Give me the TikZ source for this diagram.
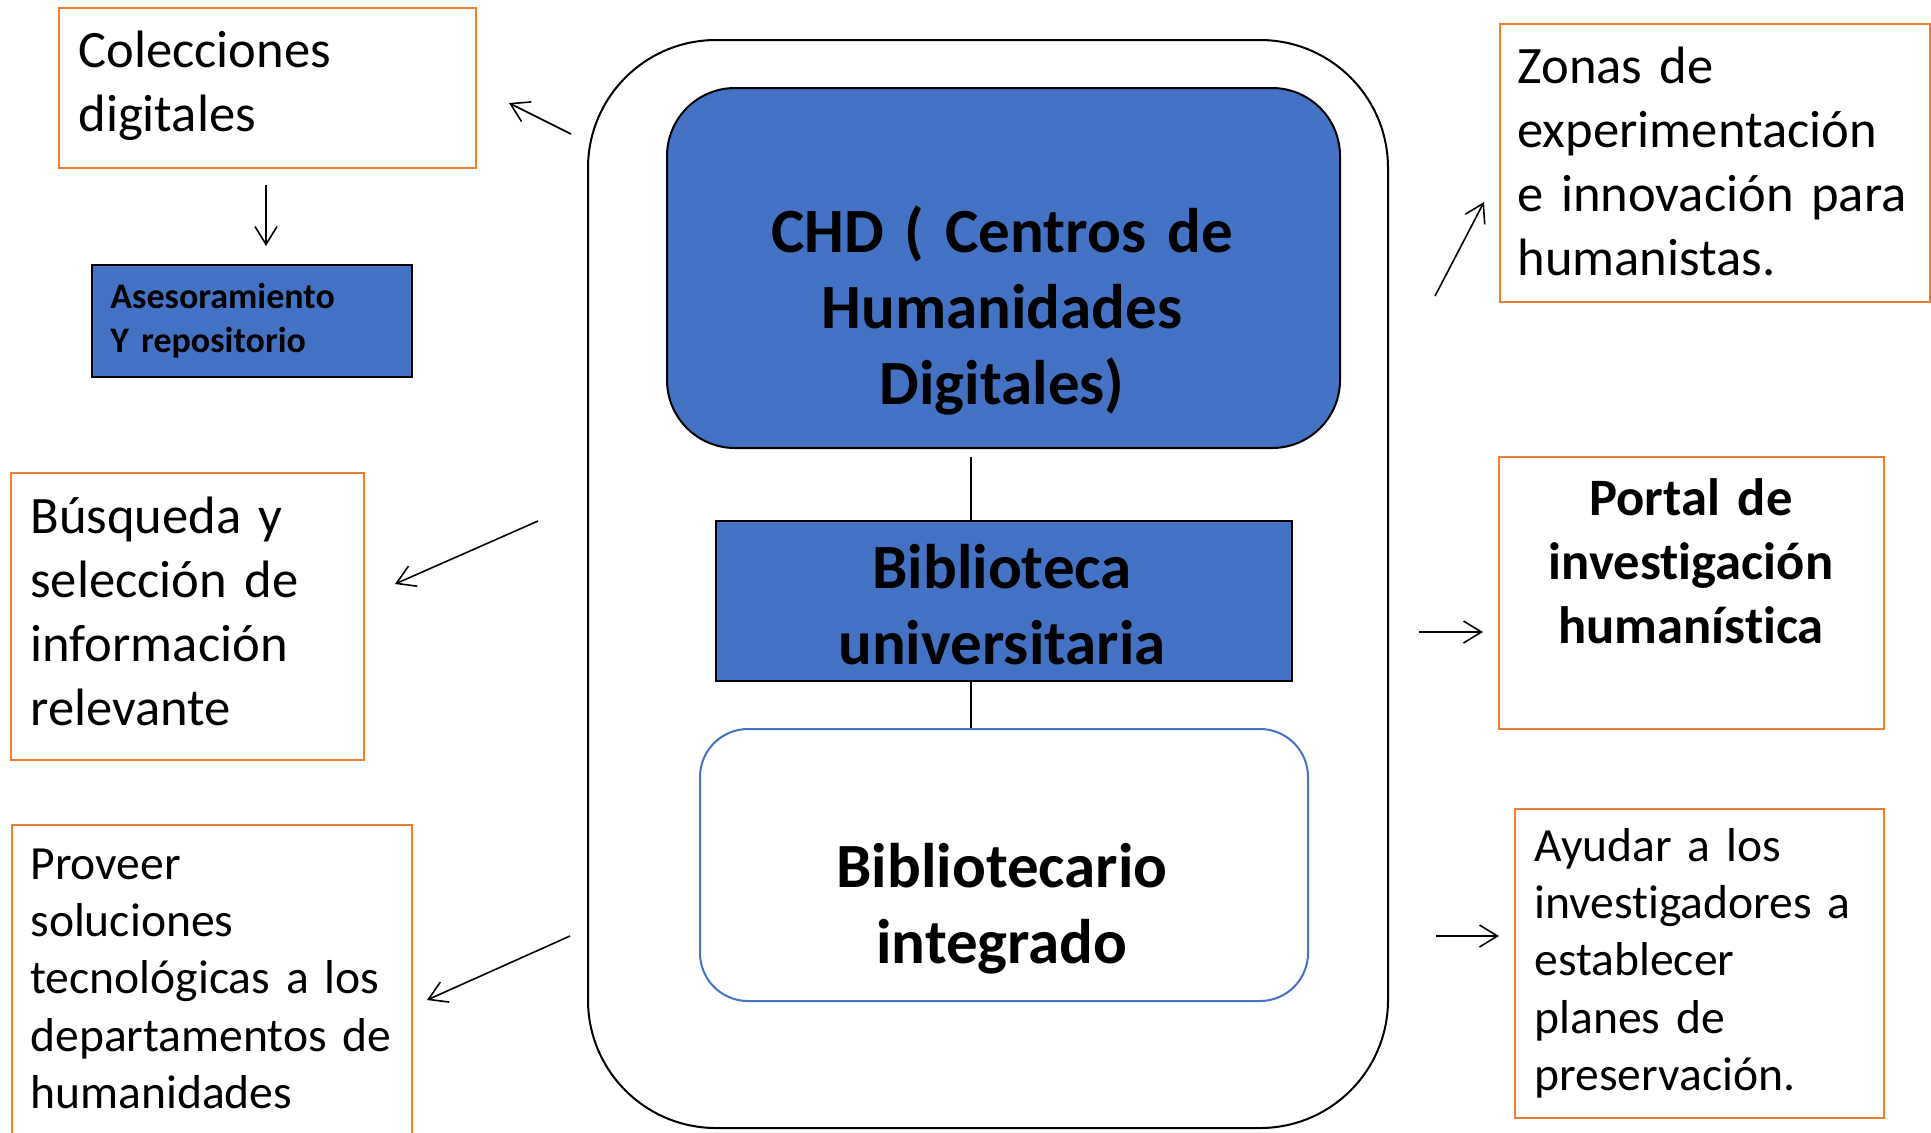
\documentclass[tikz,border=0pt]{standalone}
\usepackage{fontspec}
\setmainfont{Carlito}[Ligatures=NoCommon, WordSpace=0.85]
\usetikzlibrary{arrows.meta}
\definecolor{orangeB}{HTML}{ED7D31}
\definecolor{blueF}{HTML}{4472C4}
\newcommand{\fBig}{\fontsize{26.3pt}{32pt}\selectfont}
\newcommand{\fMid}{\fontsize{23.8pt}{28.7pt}\selectfont}
\newcommand{\fHead}{\fontsize{31.5pt}{38.2pt}\selectfont\bfseries}
\newcommand{\fSmall}{\fontsize{18pt}{22pt}\selectfont\bfseries}
\tikzset{
  obox/.style={draw=orangeB, line width=1.2pt, fill=white, inner sep=0pt, anchor=north west},
  bfill/.style={draw=black, line width=1pt, fill=blueF, inner sep=0pt, anchor=north west},
  ltxt/.style={anchor=base west, inner sep=0pt, align=left, text width=250pt},
  ctxt/.style={anchor=base, inner sep=0pt, align=center, text width=320pt},
  arr/.style={-{Straight Barb[length=9pt,width=11pt]}, line width=0.8pt},
  conn/.style={line width=0.9pt},
}
\begin{document}
\begin{tikzpicture}[x=0.5pt,y=-0.5pt]
\useasboundingbox (0,0) rectangle (1931,1132);
\fill[white] (0,0) rectangle (1931,1132);

% central container
\node[draw=black, line width=1pt, rounded corners=64pt, inner sep=0pt, anchor=north west,
      minimum width=400pt, minimum height=544pt] (outer) at (587,39) {};
\node[bfill, rounded corners=34pt, minimum width=336.5pt, minimum height=180pt] (chdB) at (666,87) {};
\node[bfill, minimum width=288pt, minimum height=80pt] (bibB) at (715,520) {};
\node[draw=blueF, line width=1pt, fill=white, rounded corners=24pt, inner sep=0pt, anchor=north west,
      minimum width=304pt, minimum height=136pt] (bibtB) at (699,728) {};

\node[ctxt, font=\fHead] (chd) at (1002,252) {CHD ( Centros de\\Humanidades\\Digitales)};
\node[ctxt, font=\fHead] (bib) at (1002,588) {Biblioteca\\universitaria};
\node[ctxt, font=\fHead] (bibt) at (1002,887) {Bibliotecario\\integrado};

\coordinate (c1) at (971,457);
\draw[conn] (c1) -- (c1 |- bibB.north);
\draw[conn] (bibB.south -| c1) -- (bibtB.north -| c1);

% left side
\node[obox, minimum width=208.5pt, minimum height=80pt] (colB) at (58,7) {};
\node[ltxt, font=\fBig] (col) at (78,67) {Colecciones\\digitales};
\node[bfill, minimum width=160pt, minimum height=56pt] (asB) at (91,264) {};
\node[ltxt, font=\fSmall] (as) at (110,308) {Asesoramiento\\Y repositorio};
\node[obox, minimum width=176.5pt, minimum height=143.5pt] (busB) at (10,472) {};
\node[ltxt, font=\fBig] (bus) at (30,533) {Búsqueda y\\selección de\\información\\relevante};
\node[obox, minimum width=200pt, minimum height=170pt] (provB) at (11,824) {};
\node[ltxt, font=\fMid] (prov) at (30,879) {Proveer\\soluciones\\tecnológicas a los\\departamentos de\\humanidades};

% right side
\node[obox, minimum width=215pt, minimum height=139pt] (zonB) at (1499,23) {};
\node[ltxt, font=\fBig] (zon) at (1517,83) {Zonas de\\experimentación\\e innovación para\\humanistas.};
\node[obox, minimum width=192.5pt, minimum height=136pt] (porB) at (1498,456) {};
\node[ctxt, font=\fBig\bfseries, text width=190pt] (por) at (1691,515) {Portal de\\investigación\\humanística};
\node[obox, minimum width=184.5pt, minimum height=154.5pt] (ayuB) at (1514,808) {};
\node[ltxt, font=\fMid] (ayu) at (1534,861) {Ayudar a los\\investigadores a\\establecer\\planes de\\preservación.};

% arrows
\coordinate (a1s) at (571,134); \coordinate (a1e) at (509,103);
\coordinate (a2s) at (266,185); \coordinate (a2e) at (266,246);
\coordinate (a3s) at (538,521); \coordinate (a3e) at (395,584);
\coordinate (a4s) at (570,936); \coordinate (a4e) at (427,1000);
\coordinate (a5s) at (1435,296); \coordinate (a5e) at (1484,202);
\coordinate (a6s) at (1419,632); \coordinate (a6e) at (1483,632);
\coordinate (a7s) at (1436,936); \coordinate (a7e) at (1499,936);
\draw[arr] (a1s) -- (a1e);
\draw[arr] (a2s) -- (a2e);
\draw[arr] (a3s) -- (a3e);
\draw[arr] (a4s) -- (a4e);
\draw[arr] (a5s) -- (a5e);
\draw[arr] (a6s) -- (a6e);
\draw[arr] (a7s) -- (a7e);
\end{tikzpicture}
\end{document}
